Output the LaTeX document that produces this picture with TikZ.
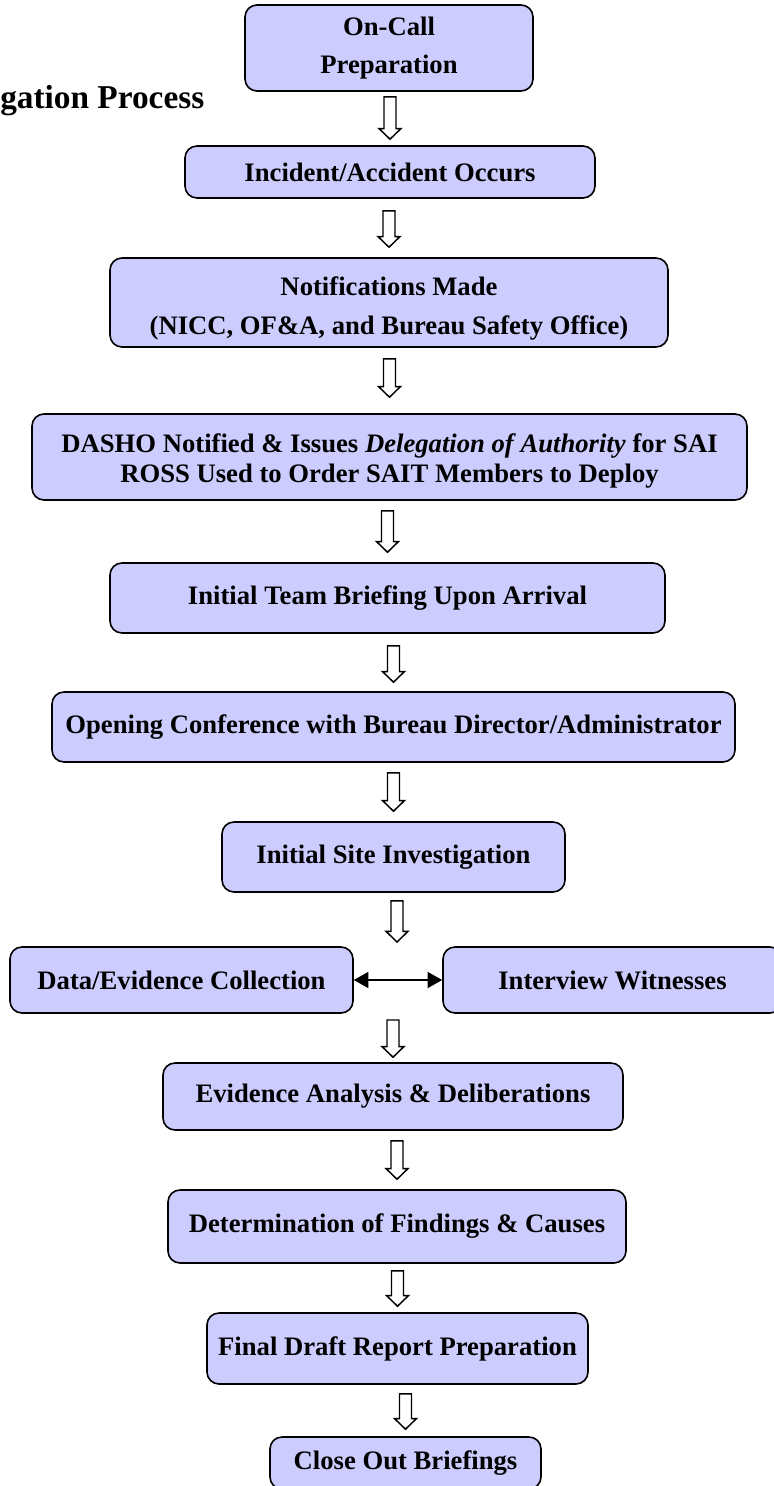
\documentclass[tikz,border=0pt]{standalone}
\usepackage{fontspec}
\setmainfont{Liberation Serif}
\usepackage{xcolor}
\usetikzlibrary{positioning}
\usetikzlibrary{calc, arrows.meta}
\definecolor{boxfill}{HTML}{CCCCFF}

\begin{document}
\begin{tikzpicture}[x=0.75pt, y=-0.75pt,
		stepbox/.style={draw, line width=1.2pt, rounded corners=9pt, fill=boxfill,
			inner sep=0pt, align=center, font=\bfseries\fontsize{20}{28}\selectfont},
		hollow/.style={line width=1.1pt, fill=white,
			to path={let \p1=(\tikztostart), \p2=(\tikztotarget) in
				(\x2-4.5pt,\y1) -- (\x2+4.5pt,\y1) -- (\x2+4.5pt,\y2+8pt) -- (\x2+8.25pt,\y2+8pt)
				-- (\x2,\y2) -- (\x2-8.25pt,\y2+8pt) -- (\x2-4.5pt,\y2+8pt) -- cycle}
		}]
		
		\useasboundingbox (0,0) rectangle (774,1486);
		
		%title
		\node[anchor=base west, inner sep=0pt, font=\bfseries\fontsize{25}{30}\selectfont] (title) at (0,108) {gation Process};
		
		%boxes
		\node[stepbox, minimum width=216pt, minimum height=64.5pt] (oncall) at (389,48) {On-Call\\Preparation};
		\node[stepbox, minimum width=307.5pt, minimum height=39pt] (incident) at (390,172) {Incident/Accident Occurs};
		\node[stepbox, minimum width=418.5pt, minimum height=66.75pt,
			label={[anchor=center, yshift=-4.5pt, align=center, font=\bfseries\fontsize{20}{29}\selectfont]center:Notifications Made\\(NICC, OF\&A, and Bureau Safety Office)}] (notif) at (389,302.5) {};
		\node[stepbox, minimum width=536.25pt, minimum height=64.5pt,
			label={[anchor=center, yshift=-3pt, align=center, font=\bfseries\fontsize{20}{22.5}\selectfont]center:DASHO Notified \& Issues \textit{Delegation of Authority} for SAI\\ROSS Used to Order SAIT Members to Deploy}] (dasho) at (389.5,457) {};
		\node[stepbox, minimum width=416.25pt, minimum height=52.5pt] (team) at (387.5,598) {Initial Team Briefing Upon Arrival};
		\node[stepbox, minimum width=512.25pt, minimum height=52.5pt] (opening) at (393.5,727) {Opening Conference with Bureau Director/Administrator};
		\node[stepbox, minimum width=257.25pt, minimum height=52.5pt] (site) at (393.5,857) {Initial Site Investigation};
		\node[stepbox, minimum width=257.25pt, minimum height=49.5pt] (data) at (181.5,980) {Data/Evidence Collection};
		\node[stepbox, minimum width=254.25pt, minimum height=49.5pt] (interview) at (612.5,980) {Interview Witnesses};
		\node[stepbox, minimum width=345pt, minimum height=50.25pt] (analysis) at (393,1096.5) {Evidence Analysis \& Deliberations};
		\node[stepbox, minimum width=343.5pt, minimum height=54.75pt] (determ) at (397,1226.5) {Determination of Findings \& Causes};
		\node[stepbox, minimum width=285.75pt, minimum height=53.25pt] (final) at (397.5,1348.5) {Final Draft Report Preparation};
		\node[stepbox, minimum width=203.25pt, minimum height=39pt] (close) at (405.5,1463) {Close Out Briefings};
		
		%split and join of the middle row
		\coordinate (split) at (397,947);
		\coordinate (join) at (397,1013);
		
		%block arrows
		\draw[hollow] ($(oncall.south)+(0,5)$) to ($(incident.north)+(0,-6)$);
		\draw[hollow] ($(incident.south)+(0,12)$) to ($(notif.north)+(0,-10)$);
		\draw[hollow] ($(notif.south)+(0,11)$) to ($(dasho.north)+(0,-16)$);
		\draw[hollow] ($(dasho.south)+(0,10)$) to ($(team.north)+(0,-10)$);
		\draw[hollow] ($(team.south)+(0,12)$) to ($(opening.north)+(0,-9)$);
		\draw[hollow] ($(opening.south)+(0,10)$) to ($(site.north)+(0,-10)$);
		\draw[hollow] ($(site.south)+(0,8)$) to ($(split)+(0,-5)$);
		\draw[hollow] ($(join)+(0,7)$) to ($(analysis.north)+(0,-5)$);
		\draw[hollow] ($(analysis.south)+(0,10)$) to ($(determ.north)+(0,-10)$);
		\draw[hollow] ($(determ.south)+(0,7)$) to ($(final.north)+(0,-6)$);
		\draw[hollow] ($(final.south)+(0,9)$) to ($(close.north)+(0,-7)$);
		
		% data <-> interview
		\draw[{Triangle[length=11pt,width=12pt]}-{Triangle[length=11pt,width=12pt]}, line width=1.5pt] (data.east) -- (interview.west);
	\end{tikzpicture}
\end{document}
